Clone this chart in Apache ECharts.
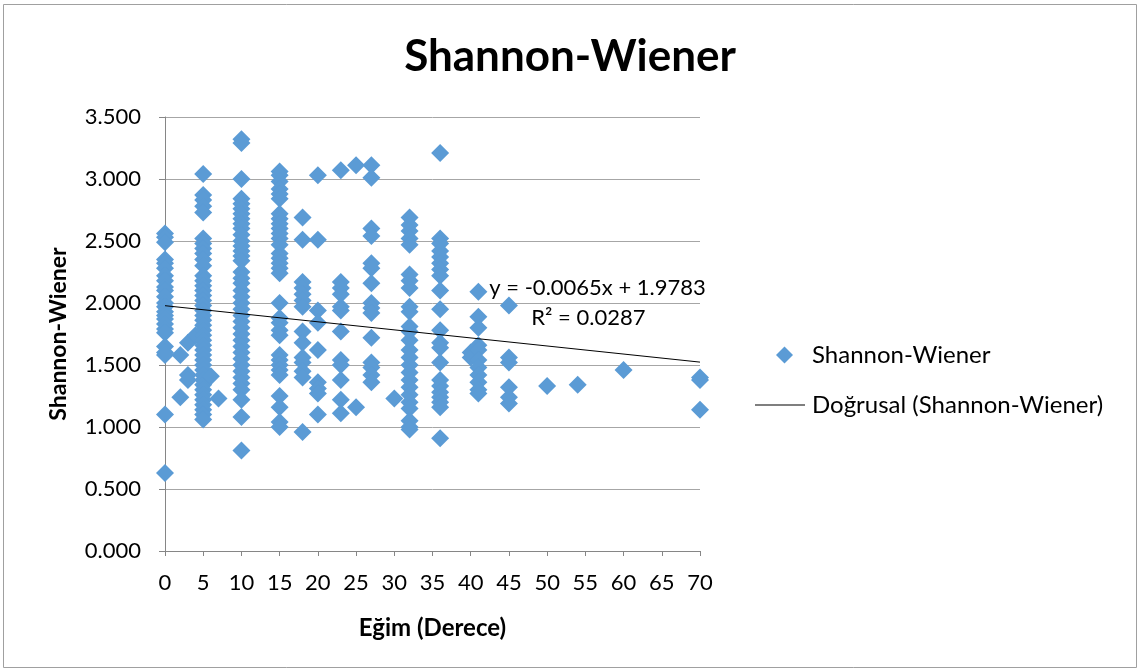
<!DOCTYPE html>
<html>
<head>
<meta charset="utf-8">
<title>Shannon-Wiener</title>
<script src="https://cdn.jsdelivr.net/npm/echarts@6/dist/echarts.min.js"></script>
<style>
  html, body { margin: 0; padding: 0; background: #fff; }
  #chart { width: 1140px; height: 672px; }
</style>
</head>
<body>
<div id="chart"></div>
<script>
// Slope in degrees and Shannon-Wiener index per plot, grouped by slope value
const slopeGroups = [0, 2, 3, 4, 5, 6, 7, 10, 15, 18, 20, 23, 25, 27, 30, 32, 36, 40, 41, 45, 50, 54, 60, 70];
const shannonByGroup = [
  [2.56, 2.53, 2.49, 2.35, 2.32, 2.28, 2.22, 2.18, 2.13, 2.10, 2.05, 2.00, 1.97, 1.93, 1.90, 1.87, 1.83, 1.79, 1.76, 1.65, 1.60, 1.58, 1.10, 0.63],
  [1.58, 1.24],
  [1.68, 1.42, 1.38],
  [1.74],
  [3.04, 2.87, 2.83, 2.78, 2.73, 2.52, 2.48, 2.44, 2.40, 2.35, 2.30, 2.22, 2.18, 2.14, 2.10, 2.06, 2.02, 1.98, 1.94, 1.90, 1.86, 1.82, 1.78, 1.74, 1.70, 1.66, 1.62, 1.58, 1.54, 1.50, 1.46, 1.42, 1.38, 1.34, 1.30, 1.26, 1.22, 1.18, 1.14, 1.10, 1.06],
  [1.41],
  [1.23],
  [3.32, 3.29, 3.00, 2.84, 2.80, 2.76, 2.72, 2.68, 2.64, 2.60, 2.55, 2.50, 2.46, 2.42, 2.38, 2.34, 2.25, 2.20, 2.16, 2.10, 2.05, 2.00, 1.95, 1.90, 1.85, 1.80, 1.75, 1.70, 1.65, 1.60, 1.55, 1.50, 1.45, 1.40, 1.35, 1.30, 1.22, 1.08, 0.81],
  [3.06, 3.03, 2.98, 2.92, 2.88, 2.84, 2.72, 2.68, 2.64, 2.60, 2.56, 2.52, 2.47, 2.40, 2.36, 2.32, 2.28, 2.24, 2.00, 1.88, 1.84, 1.78, 1.74, 1.58, 1.54, 1.50, 1.46, 1.42, 1.25, 1.16, 1.04, 1.00],
  [2.69, 2.51, 2.17, 2.12, 2.07, 2.02, 1.97, 1.77, 1.68, 1.56, 1.52, 1.45, 1.40, 0.96],
  [3.03, 2.51, 1.94, 1.84, 1.62, 1.36, 1.31, 1.27, 1.10],
  [3.07, 2.17, 2.12, 2.07, 1.97, 1.94, 1.77, 1.54, 1.50, 1.38, 1.22, 1.11],
  [3.11, 1.16],
  [3.11, 3.01, 2.60, 2.54, 2.32, 2.28, 2.16, 2.00, 1.96, 1.92, 1.72, 1.52, 1.48, 1.42, 1.36],
  [1.23],
  [2.69, 2.63, 2.58, 2.52, 2.47, 2.23, 2.18, 2.12, 1.97, 1.93, 1.81, 1.77, 1.70, 1.62, 1.56, 1.50, 1.44, 1.38, 1.32, 1.26, 1.20, 1.15, 1.05, 1.00, 0.98],
  [3.21, 2.52, 2.48, 2.42, 2.37, 2.32, 2.27, 2.22, 2.10, 1.95, 1.78, 1.68, 1.64, 1.52, 1.38, 1.33, 1.28, 1.24, 1.20, 1.16, 0.91],
  [1.60, 1.56],
  [2.09, 1.89, 1.80, 1.66, 1.62, 1.54, 1.48, 1.42, 1.36, 1.30, 1.27],
  [1.98, 1.56, 1.52, 1.32, 1.24, 1.19],
  [1.33],
  [1.34],
  [1.46],
  [1.40, 1.38, 1.14]
];

// Linear trend (Doğrusal) coefficients and fit statistic
const trendSlope = -0.0065;
const trendIntercept = 1.9783;
const trendR2 = 0.0287;
const trendRange = [0, 70];

// Axis ticks
const xTicks = { min: 0, max: 70, interval: 5 };
const yTicks = { min: 0, max: 3.5, interval: 0.5 };

const seriesName = 'Shannon-Wiener';
const trendName = 'Doğrusal (Shannon-Wiener)';

const points = [];
slopeGroups.forEach((x, i) => {
  shannonByGroup[i].forEach(v => points.push([x, v]));
});
const trendPoints = trendRange.map(x => [x, trendSlope * x + trendIntercept]);

const FONT = 'Lato, "Open Sans", sans-serif';
const GRID_COLOR = '#a6a6a6';
const AXIS_COLOR = '#868686';

const chart = echarts.init(document.getElementById('chart'), null, { renderer: 'canvas' });

chart.setOption({
  backgroundColor: '#ffffff',
  animation: false,
  textStyle: { fontFamily: FONT },
  title: {
    text: 'Shannon-Wiener',
    left: 'center',
    top: 30,
    textStyle: { fontFamily: FONT, fontSize: 44, fontWeight: 'bold', color: '#000' }
  },
  grid: { left: 165, right: 440, top: 117, bottom: 121, containLabel: false },
  xAxis: {
    type: 'value',
    min: xTicks.min, max: xTicks.max, interval: xTicks.interval,
    name: 'Eğim (Derece)',
    nameLocation: 'middle',
    nameGap: 65,
    nameTextStyle: { fontFamily: FONT, fontSize: 24, fontWeight: 'bold', color: '#000' },
    axisLine: { show: true, onZero: false, lineStyle: { color: AXIS_COLOR, width: 1 } },
    axisTick: { show: true, length: 5, lineStyle: { color: AXIS_COLOR } },
    axisLabel: { fontFamily: FONT, fontSize: 22, color: '#000', margin: 21 },
    splitLine: { show: false }
  },
  yAxis: {
    type: 'value',
    min: yTicks.min, max: yTicks.max, interval: yTicks.interval,
    name: 'Shannon-Wiener',
    nameLocation: 'middle',
    nameGap: 95,
    nameTextStyle: { fontFamily: FONT, fontSize: 23, fontWeight: 'bold', color: '#000' },
    axisLine: { show: true, lineStyle: { color: AXIS_COLOR, width: 1 } },
    axisTick: { show: true, length: 6, lineStyle: { color: AXIS_COLOR } },
    axisLabel: {
      fontFamily: FONT, fontSize: 22, color: '#000', margin: 24,
      formatter: v => v.toFixed(3)
    },
    splitLine: { show: true, lineStyle: { color: GRID_COLOR, width: 1 } }
  },
  legend: [
    {
      data: [{ name: seriesName, icon: 'diamond' }],
      left: 771, top: 338,
      itemWidth: 17, itemHeight: 17,
      textStyle: { fontFamily: FONT, fontSize: 24, color: '#000', padding: [0, 0, 0, 14] },
      selectedMode: false
    },
    {
      data: [{ name: trendName, icon: 'path://M0,0 L100,0 L100,2 L0,2 Z' }],
      left: 750, top: 388,
      itemWidth: 50, itemHeight: 1,
      textStyle: { fontFamily: FONT, fontSize: 24, color: '#000', padding: [0, 0, 0, 2] },
      selectedMode: false
    }
  ],
  series: [
    {
      name: seriesName,
      type: 'scatter',
      symbol: 'diamond',
      symbolSize: 18,
      itemStyle: { color: '#5b9bd5', opacity: 1 },
      data: points,
      z: 2
    },
    {
      name: trendName,
      type: 'line',
      data: trendPoints,
      symbol: 'none',
      lineStyle: { color: '#000000', width: 1 },
      itemStyle: { color: '#000000' },
      z: 3
    }
  ]
});

// Trend equation and R² labels, anchored in data space near the right end of the line
const eqPos = chart.convertToPixel({ gridIndex: 0 }, [56.6, 2.12]);
const r2Pos = chart.convertToPixel({ gridIndex: 0 }, [55.4, 1.88]);
const fmt = n => (n < 0 ? '-' : '') + Math.abs(n).toFixed(4);
const eqText = 'y = ' + fmt(trendSlope) + 'x + ' + trendIntercept.toFixed(4);
const r2Text = 'R² = ' + trendR2.toFixed(4);

chart.setOption({
  graphic: [
    {
      type: 'rect',
      shape: { x: 3.5, y: 4.5, width: 1133, height: 663 },
      style: { fill: 'none', stroke: '#a0a0a0', lineWidth: 1 },
      silent: true,
      z: -1
    },
    {
      type: 'text',
      x: eqPos[0], y: eqPos[1],
      style: { text: eqText, fontFamily: FONT, fontSize: 22, fill: '#000', align: 'center', verticalAlign: 'middle' },
      z: 10
    },
    {
      type: 'text',
      x: r2Pos[0], y: r2Pos[1],
      style: { text: r2Text, fontFamily: FONT, fontSize: 22, fill: '#000', align: 'center', verticalAlign: 'middle' },
      z: 10
    }
  ]
});
</script>
</body>
</html>
